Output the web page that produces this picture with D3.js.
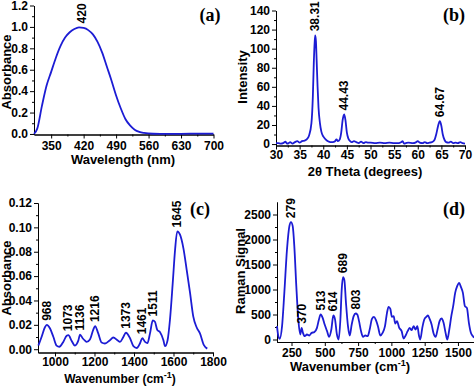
<!DOCTYPE html>
<html>
<head>
<meta charset="utf-8">
<script src="https://cdn.jsdelivr.net/npm/d3@7"></script>
<style>
body { margin: 0; background: #fff; }
svg text { font-family: "Liberation Sans", Arial, sans-serif; font-weight: bold; fill: #000; }
.axis path, .axis line { stroke: #000; stroke-width: 1; }
.axis text { font-size: 12px; }
.title { font-size: 13px; }
.peak { font-size: 12px; }
.tag { font-family: "Liberation Serif", "Times New Roman", serif !important; font-size: 18px; }
</style>
</head>
<body>
<div id="chart"></div>
<script>
// (a) UV-vis absorbance
var uvWavelength = [313, 320, 330, 340, 350, 360, 370, 380, 390, 400, 410, 420, 430, 440, 450, 460, 470, 480, 490, 500, 510, 520, 530, 540, 550, 570, 600, 650, 700]
var uvAbsorbance = [0.0, 0.05, 0.26, 0.45, 0.58, 0.71, 0.82, 0.90, 0.95, 0.98, 0.995, 0.99, 0.97, 0.93, 0.86, 0.76, 0.63, 0.50, 0.36, 0.24, 0.14, 0.08, 0.04, 0.02, 0.01, 0.002, 0.0, 0.003, 0.004]
var uvPeakText = ["420"], uvPeakX = [416], uvPeakY = [0.995]

// (b) XRD
var xrdTheta = [30, 30.5, 31, 31.5, 32, 32.3, 32.7, 33, 33.5, 34, 34.5, 35, 35.5, 36, 36.5, 37, 37.5, 37.8, 38.0, 38.2, 38.31, 38.45, 38.6, 38.8, 39.0, 39.3, 39.6, 40, 40.5, 41, 41.5, 42, 42.5, 42.8, 43.1, 43.5, 43.8, 44.1, 44.43, 44.7, 45.0, 45.3, 45.7, 46, 46.5, 47, 47.5, 48, 48.5, 49, 49.5, 50, 51, 52, 53, 54, 55, 56, 56.5, 56.8, 57.1, 57.5, 58, 59, 59.5, 60, 60.4, 61, 61.5, 62, 62.5, 63, 63.5, 63.9, 64.3, 64.67, 65.0, 65.3, 65.7, 66, 66.5, 67, 67.5, 68, 68.5, 69, 69.5, 70]
var xrdIntensity = [1, 1, 0.5, 1, 2.5, 0.5, 1, 2, 0.5, 2, 3, 1.5, 3, 3.5, 5, 9, 22, 50, 85, 108, 114, 108, 88, 60, 38, 22, 13, 8, 5, 3, 2, 2, 3, 5, 3, 5, 12, 25, 31, 25, 12, 6, 3, 2, 3, 2, 1, 2.5, 1, 2, 1.5, 1.5, 1, 1.5, 1, 1.5, 1, 1, 2, 3, 0.5, 1, 1.5, 1, 1.5, 3, 1.5, 1, 2, 1, 1.5, 2, 4, 10, 19, 24, 19, 10, 4, 2, 1.5, 2.5, 1, 1.5, 1, 2, 1, 0.5]
var xrdPeakText = ["38.31", "44.43", "64.67"], xrdPeakX = [38.31, 44.43, 64.67], xrdPeakY = [114, 31, 24]

// (c) FTIR
var irWavenumber = [916, 932, 949, 958, 975, 992, 1008, 1022, 1042, 1059, 1068, 1084, 1101, 1118, 1127, 1140, 1152, 1160, 1177, 1194, 1203, 1219, 1236, 1253, 1278, 1295, 1316, 1329, 1346, 1359, 1380, 1397, 1414, 1430, 1442, 1456, 1468, 1481, 1495, 1506, 1518, 1532, 1549, 1557, 1570, 1582, 1596, 1608, 1619, 1633, 1650, 1667, 1684, 1700, 1717, 1734, 1754, 1771]
var irAbsorbance = [0.003, 0.010, 0.018, 0.020, 0.017, 0.010, 0.003, 0.002, 0.006, 0.011, 0.0115, 0.007, 0.003, 0.007, 0.012, 0.009, 0.007, 0.006, 0.008, 0.016, 0.019, 0.013, 0.0055, 0.0047, 0.0074, 0.0096, 0.0074, 0.006, 0.010, 0.0135, 0.009, 0.0025, 0.001, 0.0047, 0.009, 0.006, 0.005, 0.013, 0.0236, 0.0225, 0.0157, 0.014, 0.0074, 0.0025, 0.0074, 0.024, 0.054, 0.0816, 0.0967, 0.094, 0.083, 0.065, 0.046, 0.027, 0.018, 0.013, 0.0033, 0.0005]
var irPeakText = ["968", "1073", "1136", "1216", "1373", "1461", "1511", "1645"]
var irPeakX = [958, 1068, 1127, 1203, 1359, 1442, 1495, 1619]
var irPeakY = [0.020, 0.0115, 0.012, 0.019, 0.0135, 0.009, 0.0236, 0.0967]

// (d) Raman
var ramanWavenumber = [141, 151, 161, 179, 196, 216, 234, 246, 259, 271, 286, 301, 316, 326, 336, 349, 366, 384, 401, 421, 441, 456, 469, 484, 499, 517, 532, 549, 564, 576, 591, 604, 617, 627, 637, 647, 659, 674, 687, 702, 717, 732, 744, 757, 772, 787, 804, 822, 837, 854, 869, 884, 899, 917, 934, 952, 967, 979, 992, 1004, 1017, 1029, 1042, 1059, 1077, 1092, 1107, 1122, 1137, 1152, 1167, 1182, 1195, 1207, 1217, 1232, 1247, 1262, 1275, 1287, 1302, 1317, 1332, 1347, 1362, 1377, 1392, 1407, 1420, 1435, 1450, 1464, 1479, 1494, 1509, 1522, 1537, 1552, 1567, 1582, 1597, 1612, 1620]
var ramanSignal = [267, 67, 13, 267, 933, 1800, 2267, 2347, 2267, 1867, 1067, 400, 100, 233, 133, 67, 100, 80, 133, 147, 233, 400, 500, 433, 300, 167, 53, 200, 480, 413, 100, 0, 400, 1000, 1247, 1187, 733, 267, 80, 300, 467, 520, 500, 367, 167, 53, 80, 67, 200, 413, 453, 387, 267, 80, 133, 267, 533, 653, 613, 453, 467, 320, 367, 233, 167, 20, 80, 167, 233, 187, 267, 200, 267, 80, 0, 233, 400, 453, 480, 413, 300, 120, 53, 200, 367, 420, 333, 133, 0, 200, 467, 667, 933, 1067, 1133, 1053, 933, 667, 633, 333, 133, 67, 33]
var ramanPeakText = ["279", "370", "513", "614", "689", "803"]
var ramanPeakX = [246, 326, 469, 564, 637, 732]
var ramanPeakY = [2347, 233, 500, 480, 1247, 520]

var lineColour = "#1c1cd4"

var svg = d3.select("#chart").append("svg")
    .attr("width", 474)
    .attr("height", 386)
svg.append("rect").attr("width", 474).attr("height", 386).attr("fill", "#fff")

function panel(o) {
    var x = d3.scaleLinear().domain(o.xDomain).range(o.xRange)
    var y = d3.scaleLinear().domain(o.yDomain).range(o.yRange)
    var g = svg.append("g")

    // minor ticks first, then major with labels
    g.append("g").attr("class", "axis")
        .attr("transform", "translate(0," + o.yRange[0] + ")")
        .call(d3.axisBottom(x).tickValues(o.xMinor).tickSize(2).tickSizeOuter(0).tickFormat(""))
    g.append("g").attr("class", "axis")
        .attr("transform", "translate(" + o.xRange[0] + ",0)")
        .call(d3.axisLeft(y).tickValues(o.yMinor).tickSize(2).tickSizeOuter(0).tickFormat(""))
    g.append("g").attr("class", "axis")
        .attr("transform", "translate(0," + o.yRange[0] + ")")
        .call(d3.axisBottom(x).tickValues(o.xTicks).tickSize(4).tickSizeOuter(0).tickPadding(o.xPad).tickFormat(d3.format("d")))
    g.append("g").attr("class", "axis")
        .attr("transform", "translate(" + o.xRange[0] + ",0)")
        .call(d3.axisLeft(y).tickValues(o.yTicks).tickSize(4).tickSizeOuter(0).tickPadding(2).tickFormat(d3.format(o.yFormat)))

    var pts = o.xs.map(function(v, i) { return [v, o.ys[i]] })
    g.append("path")
        .datum(pts)
        .attr("fill", "none")
        .attr("stroke", lineColour)
        .attr("stroke-width", 1.8)
        .attr("stroke-linejoin", "round")
        .attr("d", d3.line()
            .x(function(d) { return x(d[0]) })
            .y(function(d) { return y(d[1]) })
            .curve(d3.curveMonotoneX))

    g.selectAll("text.peak")
        .data(o.peakText)
        .enter().append("text")
        .attr("class", "peak")
        .attr("transform", function(d, i) {
            return "translate(" + (x(o.peakX[i]) + 4) + "," + (y(o.peakY[i]) - 4) + ") rotate(-90)"
        })
        .text(function(d) { return d })

    g.append("text").attr("class", "title")
        .attr("transform", "translate(" + o.yTitlePos[0] + "," + o.yTitlePos[1] + ") rotate(-90)")
        .attr("text-anchor", "middle")
        .attr("dy", "0.35em")
        .text(o.yTitle)

    var xt = g.append("text").attr("class", "title")
        .attr("x", o.xTitlePos[0]).attr("y", o.xTitlePos[1])
        .attr("text-anchor", "middle")
    if (o.xTitleSize) xt.style("font-size", o.xTitleSize + "px")
    xt.append("tspan").text(o.xTitle)
    if (o.xTitleSup) {
        xt.append("tspan").style("font-size", "9px").attr("dy", "-5").text(o.xTitleSup)
        xt.append("tspan").attr("dy", "5").text(")")
    }

    g.append("text").attr("class", "tag")
        .attr("x", o.tagPos[0]).attr("y", o.tagPos[1])
        .attr("text-anchor", "middle")
        .text(o.tag)
}

panel({
    xs: uvWavelength, ys: uvAbsorbance,
    xDomain: [313, 700], xRange: [34, 213.5],
    yDomain: [-0.005, 1.2], yRange: [134.5, 5.5],
    xTicks: [350, 420, 490, 560, 630, 700], xMinor: [385, 455, 525, 595, 665], xPad: 3,
    yTicks: [0, 0.2, 0.4, 0.6, 0.8, 1.0, 1.2], yMinor: [0.1, 0.3, 0.5, 0.7, 0.9, 1.1], yFormat: ".1f",
    peakText: uvPeakText, peakX: uvPeakX, peakY: uvPeakY,
    yTitle: "Absorbance", yTitlePos: [6, 72],
    xTitle: "Wavelength (nm)", xTitlePos: [123, 164],
    tag: "(a)", tagPos: [210, 21]
})

panel({
    xs: xrdTheta, ys: xrdIntensity,
    xDomain: [30, 70], xRange: [276, 465],
    yDomain: [-1.5, 140], yRange: [145.5, 10.5],
    xTicks: [30, 35, 40, 45, 50, 55, 60, 65, 70], xMinor: [32.5, 37.5, 42.5, 47.5, 52.5, 57.5, 62.5, 67.5], xPad: 1,
    yTicks: [0, 20, 40, 60, 80, 100, 120, 140], yMinor: [10, 30, 50, 70, 90, 110, 130], yFormat: "d",
    peakText: xrdPeakText, peakX: xrdPeakX, peakY: xrdPeakY,
    yTitle: "Intensity", yTitlePos: [242, 77],
    xTitle: "2\u03b8 Theta (degrees)", xTitlePos: [365, 176],
    tag: "(b)", tagPos: [454, 21]
})

panel({
    xs: irWavenumber, ys: irAbsorbance,
    xDomain: [914, 1800], xRange: [38, 213],
    yDomain: [-0.0027, 0.12], yRange: [352.5, 203],
    xTicks: [1000, 1200, 1400, 1600, 1800], xMinor: [1100, 1300, 1500, 1700], xPad: 1,
    yTicks: [0, 0.02, 0.04, 0.06, 0.08, 0.10, 0.12], yMinor: [0.01, 0.03, 0.05, 0.07, 0.09, 0.11], yFormat: ".2f",
    peakText: irPeakText, peakX: irPeakX, peakY: irPeakY,
    yTitle: "Absorbance", yTitlePos: [6, 278],
    xTitle: "Wavenumber (cm", xTitleSup: "-1", xTitlePos: [120, 383], xTitleSize: 12,
    tag: "(c)", tagPos: [200, 215]
})

panel({
    xs: ramanWavenumber, ys: ramanSignal,
    xDomain: [141, 1700], xRange: [277, 484.6],
    yDomain: [-50, 2750], yRange: [342, 202],
    xTicks: [250, 500, 750, 1000, 1250, 1500], xMinor: [375, 625, 875, 1125, 1375, 1625], xPad: 2,
    yTicks: [0, 500, 1000, 1500, 2000, 2500], yMinor: [250, 750, 1250, 1750, 2250], yFormat: "d",
    peakText: ramanPeakText, peakX: ramanPeakX, peakY: ramanPeakY,
    yTitle: "Raman Signal", yTitlePos: [240, 271],
    xTitle: "Wavenumber (cm", xTitleSup: "-1", xTitlePos: [350, 371],
    tag: "(d)", tagPos: [454, 215]
})
</script>
</body>
</html>
